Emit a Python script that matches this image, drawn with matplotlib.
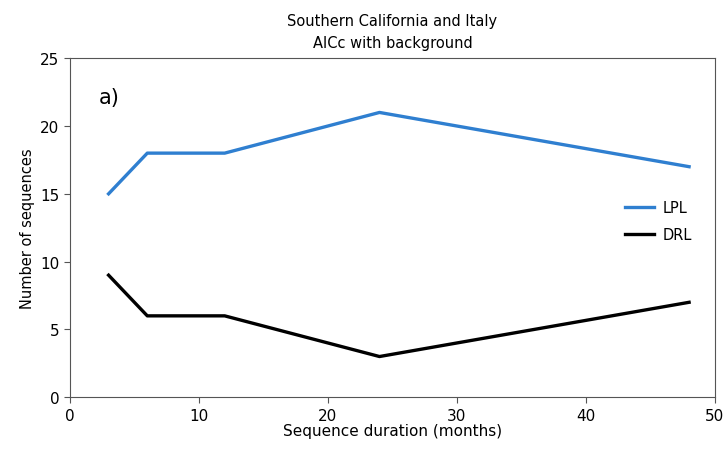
import matplotlib.pyplot as plt

# datos
duracion = [3, 6, 12, 24, 48]
lpl = [15, 18, 18, 21, 17]
drl = [9, 6, 6, 3, 7]

fig = plt.figure(figsize=(7.28, 4.52), dpi=100)
ax = fig.add_axes([0.096, 0.119, 0.886, 0.750])

ax.plot(duracion, lpl, color="#2f7fd0", lw=2.4, label="LPL")
ax.plot(duracion, drl, color="black", lw=2.4, label="DRL")

ax.set_xlim(0, 50)
ax.set_ylim(0, 25)
ax.set_xticks(range(0, 51, 10))
ax.set_yticks(range(0, 26, 5))
ax.tick_params(labelsize=11, direction="out", length=4, color="#555555")
for s in ax.spines.values():
    s.set_color("#555555")

ax.set_xlabel("Sequence duration (months)", fontsize=11, labelpad=0)
ax.set_ylabel("Number of sequences", fontsize=10.5)
ax.set_title("Southern California and Italy\nAICc with background",
             fontsize=10.5, pad=8, linespacing=1.6)
ax.text(0.045, 0.915, "a)", transform=ax.transAxes, fontsize=15, va="top")

ax.legend(loc="center left", bbox_to_anchor=(0.84, 0.52), frameon=False,
          fontsize=10.5, handlelength=2.0, handletextpad=0.6, labelspacing=0.8)

fig.savefig("out.png", dpi=100)
